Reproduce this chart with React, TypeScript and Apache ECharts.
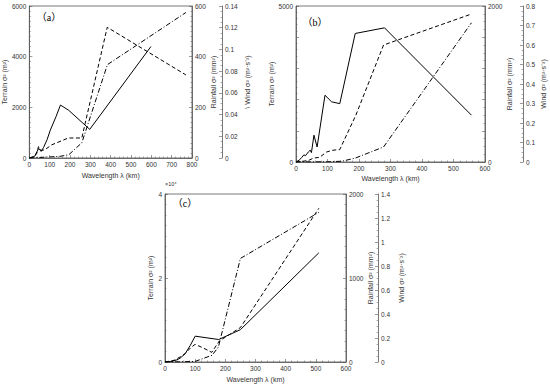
import React, { useEffect, useRef } from "react";
import * as echarts from "echarts";

// ---------- Panel (a) ----------
const aTerrainX = [0, 25, 46, 58, 70, 87, 103, 131, 153, 194, 297, 598];
const aTerrainY = [0, 60, 380, 260, 420, 720, 1100, 1630, 2090, 1880, 1130, 4400];
const aRainX = [0, 20, 35, 45, 58, 75, 110, 192, 258, 383, 770];
const aRainY = [0, 5, 15, 45, 30, 32, 52, 79, 79, 516, 328];
const aWindX = [0, 50, 100, 150, 194, 258, 384, 770];
const aWindY = [0, 0.0005, 0.001, 0.0015, 0.003, 0.014, 0.086, 0.134];

// ---------- Panel (b) ----------
const bTerrainX = [0, 10, 18, 25, 30, 39, 45, 49, 57, 67, 92, 113, 139, 188, 281, 557];
const bTerrainY = [0, 60, 140, 230, 200, 320, 380, 300, 860, 480, 2140, 1930, 1870, 4120, 4300, 1500];
const bRainX = [0, 20, 40, 55, 75, 97, 115, 139, 190, 278, 557];
const bRainY = [0, 8, 20, 50, 60, 128, 150, 160, 600, 1500, 1897];
const bWindX = [0, 100, 146, 188, 278, 557];
const bWindY = [0, 0.001, 0.004, 0.02, 0.077, 0.714];

// ---------- Panel (c) ----------
const cTerrainX = [0, 20, 39, 50, 67, 84, 100, 178, 250, 510];
const cTerrainY = [0, 100, 500, 900, 2000, 3980, 6150, 5350, 7700, 26000];
const cRainX = [0, 30, 50, 67, 85, 100, 125, 155, 180, 250, 510];
const cRainY = [0, 20, 60, 100, 170, 210, 170, 115, 250, 410, 1830];
const cWindX = [0, 50, 100, 156, 177, 250, 510];
const cWindY = [0, 0.001, 0.005, 0.056, 0.125, 0.863, 1.247];

// ---------- Axis labels ----------
const xName = "Wavelength λ (km)";
const terrainName = "Terrain σ² (m²)";
const rainName = "Rainfall σ² (mm²)";
const windName = "Wind σ² (m²·s⁻²)";
const windNameA = "\\ Wind σ² (m²·s⁻²)";
const panelLabels = ["（a）", "（b）", "（c）"];
const expLabel = "×10⁴";

const zip = (xs: number[], ys: number[]) => xs.map((x, i) => [x, ys[i]]);

const FONT = "Arial";
const AXC = "#555";
const plain = (v: number) => String(Math.round(v * 1000) / 1000);

function xAxisCfg(grid: number, max: number, gap: number) {
  return {
    type: "value",
    gridIndex: grid,
    min: 0,
    max,
    interval: 100,
    name: xName,
    nameLocation: "middle",
    nameGap: gap,
    nameTextStyle: { fontSize: 7, color: "#333", fontFamily: FONT },
    axisLine: { show: true, lineStyle: { color: AXC, width: 0.8 } },
    axisTick: { show: true, inside: true, length: 3, lineStyle: { color: AXC, width: 0.6 } },
    minorTick: { show: true, splitNumber: 5, length: 1.5, lineStyle: { color: AXC, width: 0.5 } },
    axisLabel: { fontSize: 6.5, color: "#333", fontFamily: FONT, margin: 3, formatter: plain },
    splitLine: { show: false },
  };
}

function yAxisCfg(opts: any) {
  return {
    type: "value",
    gridIndex: opts.grid,
    position: opts.position,
    offset: opts.offset || 0,
    min: 0,
    max: opts.max,
    interval: opts.interval,
    name: opts.name,
    nameLocation: "middle",
    nameGap: opts.nameGap,
    nameRotate: 90,
    nameTextStyle: { fontSize: 7, color: "#333", fontFamily: FONT },
    axisLine: { show: true, onZero: false, lineStyle: { color: AXC, width: 0.8 } },
    axisTick: { show: true, inside: true, length: 3, lineStyle: { color: AXC, width: 0.6 } },
    minorTick: { show: true, splitNumber: opts.minor || 5, length: 1.5, lineStyle: { color: AXC, width: 0.5 } },
    axisLabel: {
      fontSize: 6.5,
      color: "#333",
      fontFamily: FONT,
      margin: 3,
      formatter: opts.formatter || plain,
    },
    splitLine: { show: false },
  };
}

function lineSeries(xi: number, yi: number, data: number[][], type: any) {
  return {
    type: "line",
    xAxisIndex: xi,
    yAxisIndex: yi,
    data,
    showSymbol: false,
    symbol: "none",
    lineStyle: { color: "#000", width: 1, type },
  };
}

const DASH = [4, 2.5];
const DASHDOT = [5, 2, 1, 2];
const LABEL_FONT = "Liberation Serif, Noto Sans CJK SC, serif";

export default function App() {
  const ref = useRef<HTMLDivElement>(null);
  useEffect(() => {
    if (!ref.current) return;
    const chart = echarts.init(ref.current, null, { renderer: "svg" });
    const gridStyle = { show: true, borderColor: AXC, borderWidth: 0.8, containLabel: false };
    const option: any = {
      animation: false,
      backgroundColor: "#fff",
      grid: [
        { ...gridStyle, left: 29, top: 6, width: 163, height: 152 },
        { ...gridStyle, left: 296, top: 6, width: 189, height: 156 },
        { ...gridStyle, left: 165, top: 194, width: 181, height: 168 },
      ],
      xAxis: [xAxisCfg(0, 800, 14), xAxisCfg(1, 600, 13), xAxisCfg(2, 600, 14)],
      yAxis: [
        // panel a
        yAxisCfg({ grid: 0, position: "left", max: 6000, interval: 2000, name: terrainName, nameGap: 18, minor: 10 }),
        yAxisCfg({ grid: 0, position: "right", max: 600, interval: 200, name: rainName, nameGap: 16, minor: 10 }),
        yAxisCfg({ grid: 0, position: "right", offset: 30, max: 0.14, interval: 0.02, name: windNameA, nameGap: 22, minor: 4 }),
        // panel b
        yAxisCfg({
          grid: 1, position: "left", max: 5000, interval: 1000, name: terrainName, nameGap: 13, minor: 5,
          formatter: (v: number) => (v === 0 || v === 5000 ? String(v) : ""),
        }),
        yAxisCfg({
          grid: 1, position: "right", max: 2000, interval: 400, name: rainName, nameGap: 19, minor: 4,
          formatter: (v: number) => (v === 0 || v === 2000 ? String(v) : ""),
        }),
        yAxisCfg({ grid: 1, position: "right", offset: 38, max: 0.8, interval: 0.1, name: windName, nameGap: 17, minor: 4 }),
        // panel c
        yAxisCfg({
          grid: 2, position: "left", max: 40000, interval: 20000, name: terrainName, nameGap: 9, minor: 8,
          formatter: (v: number) => String(v / 10000),
        }),
        yAxisCfg({ grid: 2, position: "right", max: 2000, interval: 1000, name: rainName, nameGap: 19, minor: 8 }),
        yAxisCfg({ grid: 2, position: "right", offset: 32, max: 1.4, interval: 0.2, name: windName, nameGap: 20, minor: 4 }),
      ],
      series: [
        lineSeries(0, 0, zip(aTerrainX, aTerrainY), "solid"),
        lineSeries(0, 1, zip(aRainX, aRainY), DASH),
        lineSeries(0, 2, zip(aWindX, aWindY), DASHDOT),
        lineSeries(1, 3, zip(bTerrainX, bTerrainY), "solid"),
        lineSeries(1, 4, zip(bRainX, bRainY), DASH),
        lineSeries(1, 5, zip(bWindX, bWindY), DASHDOT),
        lineSeries(2, 6, zip(cTerrainX, cTerrainY), "solid"),
        lineSeries(2, 7, zip(cRainX, cRainY), DASH),
        lineSeries(2, 8, zip(cWindX, cWindY), DASHDOT),
      ],
      graphic: [
        {
          type: "text", x: 49, y: 17,
          style: { text: panelLabels[0], fontSize: 10, fill: "#000", fontFamily: LABEL_FONT, textAlign: "center", textVerticalAlign: "middle" },
        },
        {
          type: "text", x: 315, y: 22,
          style: { text: panelLabels[1], fontSize: 10, fill: "#000", fontFamily: LABEL_FONT, textAlign: "center", textVerticalAlign: "middle" },
        },
        {
          type: "text", x: 185, y: 203,
          style: { text: panelLabels[2], fontSize: 10, fill: "#000", fontFamily: LABEL_FONT, textAlign: "center", textVerticalAlign: "middle" },
        },
        {
          type: "text", x: 165, y: 184,
          style: { text: expLabel, fontSize: 5.5, fill: "#333", fontFamily: FONT, textAlign: "left", textVerticalAlign: "middle" },
        },
      ],
    };
    chart.setOption(option);
    return () => chart.dispose();
  }, []);
  return (
    <div
      ref={ref}
      style={{ position: "absolute", left: 0, top: 0, width: 550, height: 385 }}
    />
  );
}
